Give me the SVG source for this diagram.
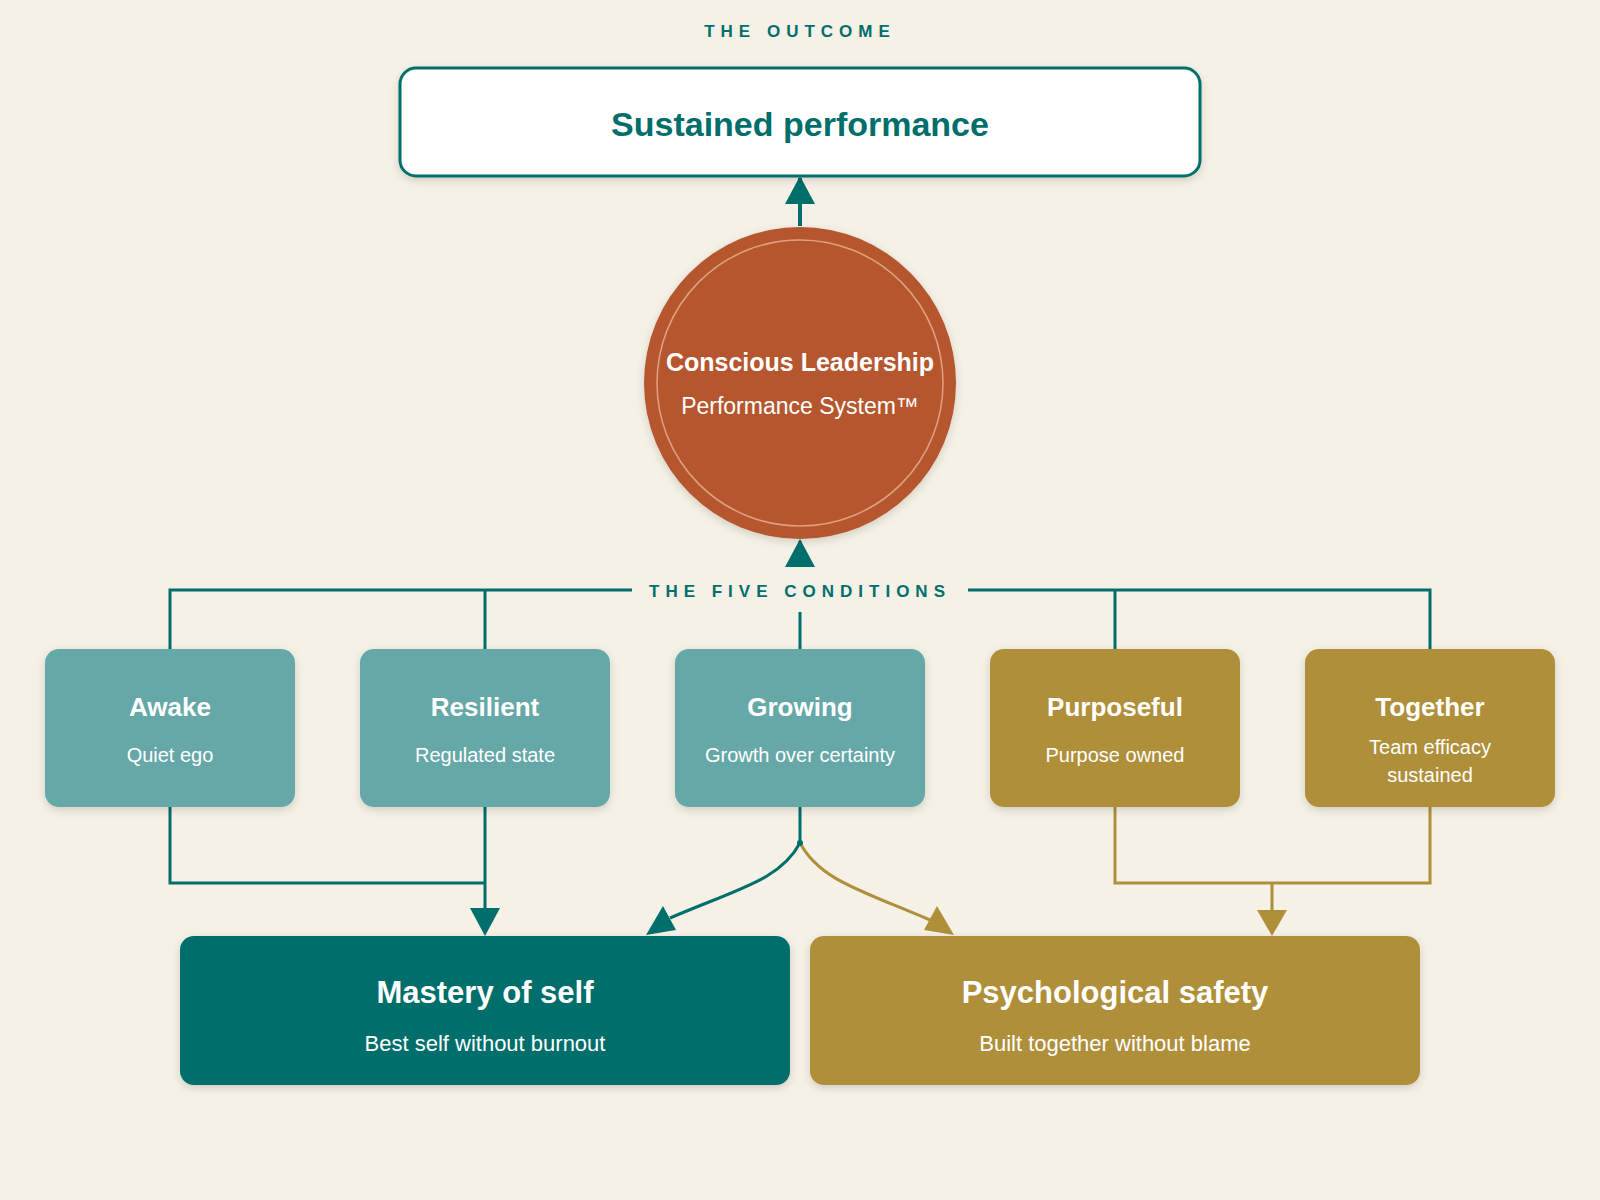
<svg xmlns="http://www.w3.org/2000/svg" width="1600" height="1200" viewBox="0 0 1600 1200">
<style>
text{font-family:"Liberation Sans",Arial,sans-serif;text-anchor:middle}
.lbl{font-size:17px;font-weight:bold;fill:#006e6b;letter-spacing:6px}
.t{font-size:26px;font-weight:bold;fill:#fff}
.s{font-size:20px;fill:#fff}
.tl{stroke:#006e6b;stroke-width:3;fill:none}
.gl{stroke:#b08f3b;stroke-width:3;fill:none}
</style>
<defs>
<filter id="sh" x="-10%" y="-10%" width="120%" height="130%"><feDropShadow dx="0" dy="3" stdDeviation="4" flood-opacity="0.15"/></filter>
<marker id="at" viewBox="0 0 10 10" refX="10" refY="5" markerWidth="10" markerHeight="10" markerUnits="userSpaceOnUse" orient="auto"><path d="M0,0 L10,5 L0,10 z" fill="#006e6b"/></marker>
<marker id="ag" viewBox="0 0 10 10" refX="10" refY="5" markerWidth="10" markerHeight="10" markerUnits="userSpaceOnUse" orient="auto"><path d="M0,0 L10,5 L0,10 z" fill="#b08f3b"/></marker>
</defs>
<rect width="1600" height="1200" fill="#f5f1e6"/>
<text x="800" y="37" class="lbl">THE OUTCOME</text>
<g id="connectors">
<path class="tl" d="M800,226 V178" marker-end="url(#at)" style="stroke-width:4" transform=""/>
<path class="tl" d="M800,566 V541"/>
<polygon points="800,539 785,567 815,567" fill="#006e6b"/>
<polygon points="800,176 785,204 815,204" fill="#006e6b"/>
<path class="tl" d="M170,649 V590 H632 M968,590 H1430 V649 M485,590 V649 M1115,590 V649 M800,612 V649"/>
<path class="tl" d="M170,807 V883 H485 M485,807 V910"/>
<polygon points="485,936 470,908 500,908" fill="#006e6b"/>
<path class="tl" d="M800,807 V843 C780,880 740,888 670,918"/>
<polygon points="646,935 663,906 676,930" fill="#006e6b"/>
<path class="gl" d="M800,843 C820,880 860,890 930,920"/>
<polygon points="954,935 924,930 937,906" fill="#b08f3b"/>
<circle cx="800" cy="843" r="3" fill="#006e6b"/>
<path class="gl" d="M1115,807 V883 H1430 V807 M1272,883 V912"/>
<polygon points="1272,936 1257,910 1287,910" fill="#b08f3b"/>
</g>
<text x="800" y="597" class="lbl">THE FIVE CONDITIONS</text>
<g id="outcome"><rect x="400" y="68" width="800" height="108" rx="16" fill="#fff" stroke="#006e6b" stroke-width="3" filter="url(#sh)"/>
<text x="800" y="136" style="font-size:34px;font-weight:bold;fill:#006e6b">Sustained performance</text></g>
<g id="core"><circle cx="800" cy="383" r="156" fill="#b5562d" filter="url(#sh)"/><circle cx="800" cy="383" r="143" fill="none" stroke="#e0a183" stroke-width="1.5"/>
<text x="800" y="371" style="font-size:25px;font-weight:bold;fill:#fff">Conscious Leadership</text>
<text x="800" y="414" style="font-size:23px;fill:#fff">Performance System™</text></g>
<g id="awake"><rect x="45" y="649" width="250" height="158" rx="14" fill="#66a8a8" filter="url(#sh)"/><text x="170" y="716" class="t">Awake</text><text x="170" y="762" class="s">Quiet ego</text></g>
<g id="resilient"><rect x="360" y="649" width="250" height="158" rx="14" fill="#66a8a8" filter="url(#sh)"/><text x="485" y="716" class="t">Resilient</text><text x="485" y="762" class="s">Regulated state</text></g>
<g id="growing"><rect x="675" y="649" width="250" height="158" rx="14" fill="#66a8a8" filter="url(#sh)"/><text x="800" y="716" class="t">Growing</text><text x="800" y="762" class="s">Growth over certainty</text></g>
<g id="purposeful"><rect x="990" y="649" width="250" height="158" rx="14" fill="#b08f3b" filter="url(#sh)"/><text x="1115" y="716" class="t">Purposeful</text><text x="1115" y="762" class="s">Purpose owned</text></g>
<g id="together"><rect x="1305" y="649" width="250" height="158" rx="14" fill="#b08f3b" filter="url(#sh)"/><text x="1430" y="716" class="t">Together</text><text x="1430" y="754" class="s">Team efficacy</text><text x="1430" y="782" class="s">sustained</text></g>
<g id="mastery"><rect x="180" y="936" width="610" height="149" rx="14" fill="#006e6b" filter="url(#sh)"/><text x="485" y="1003" style="font-size:31px;font-weight:bold;fill:#fff">Mastery of self</text><text x="485" y="1051" style="font-size:22px;fill:#fff">Best self without burnout</text></g>
<g id="safety"><rect x="810" y="936" width="610" height="149" rx="14" fill="#b08f3b" filter="url(#sh)"/><text x="1115" y="1003" style="font-size:31px;font-weight:bold;fill:#fff">Psychological safety</text><text x="1115" y="1051" style="font-size:22px;fill:#fff">Built together without blame</text></g>
</svg>
